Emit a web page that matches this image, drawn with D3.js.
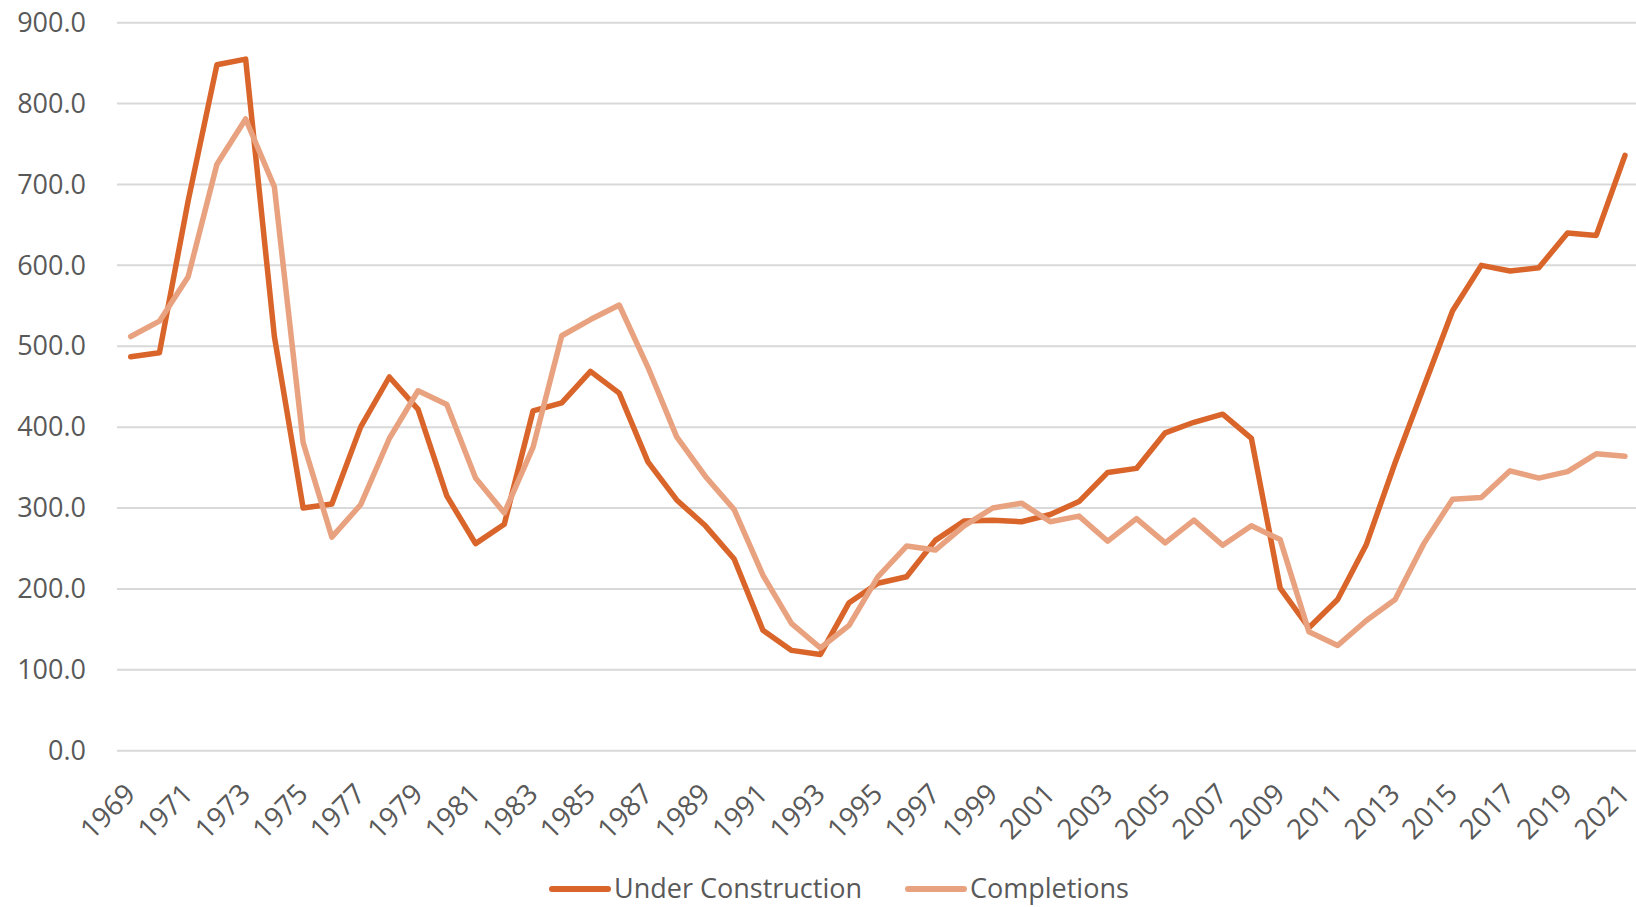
<!DOCTYPE html>
<meta charset="utf-8">
<script src="https://d3js.org/d3.v7.min.js"></script>
<style>

body {
  margin: 0;
  background: #fff;
}

svg {
  display: block;
  font-family: "Open Sans", sans-serif;
}

.grid line {
  stroke: #d9d9d9;
  stroke-width: 2;
}

.tick text {
  fill: #595959;
}

</style>
<body>
<div class="chart"></div>
<script>

// years on the category axis
var years = d3.range(1969, 2022);

// housing units under construction (thousands)
var underConstruction = [
  487, 492, 680, 848, 855, 512, 300, 305, 400, 462,
  422, 315, 256, 280, 420, 430, 469, 442, 357, 310,
  278, 237, 149, 124, 119, 183, 207, 215, 260, 284,
  285, 283, 292, 308, 344, 349, 393, 406, 416, 386,
  201, 152, 187, 255, 356, 450, 544, 600, 593, 597,
  640, 637, 736
];

// housing completions (thousands)
var completions = [
  512, 531, 586, 725, 781, 697, 381, 264, 304, 386,
  445, 428, 337, 294, 375, 513, 533, 551, 474, 388,
  339, 298, 217, 157, 127, 155, 215, 253, 248, 278,
  300, 306, 283, 290, 259, 287, 257, 285, 254, 278,
  261, 147, 130, 161, 187, 256, 311, 313, 346, 337,
  345, 367, 364
];

var yTicks = [0, 100, 200, 300, 400, 500, 600, 700, 800, 900];
var xLabels = years.filter(function(d, i) { return i % 2 == 0; });

var seriesNames = ["Under Construction", "Completions"];
var seriesColors = ["#d9652b", "#e9a27f"];

var width = 1636,
    height = 907;

var svg = d3.select(".chart").append("svg")
    .attr("width", width)
    .attr("height", height);

// plot area
var left = 117, right = 1636;

var x = d3.scalePoint()
    .domain(years)
    .range([130.7, 1625]);

var y = d3.scaleLinear()
    .domain([0, 900])
    .range([750.7, 22.7]);

// horizontal gridlines
svg.append("g")
    .attr("class", "grid")
  .selectAll("line")
  .data(yTicks)
  .enter().append("line")
    .attr("x1", left)
    .attr("x2", right)
    .attr("y1", function(d) { return y(d); })
    .attr("y2", function(d) { return y(d); });

// y axis labels
var yAxis = svg.append("g")
    .attr("transform", "translate(" + (left - 31) + ",0)")
    .call(d3.axisLeft(y).tickValues(yTicks).tickSize(0).tickPadding(0)
      .tickFormat(d3.format(".1f")));
yAxis.select(".domain").remove();
yAxis.selectAll("text")
    .attr("font-size", 27)
    .attr("font-family", "Open Sans");

// x axis labels, rotated
var xAxis = svg.append("g")
    .attr("transform", "translate(0,750.7)")
    .call(d3.axisBottom(x).tickValues(xLabels).tickSize(0).tickPadding(0));
xAxis.select(".domain").remove();
xAxis.selectAll("text")
    .attr("font-size", 28)
    .attr("font-family", "Open Sans")
    .attr("text-anchor", "end")
    .attr("dy", 0)
    .attr("y", 0)
    .attr("transform", "translate(6,45) rotate(-45)");

// lines
var line = d3.line()
    .x(function(d, i) { return x(years[i]); })
    .y(function(d) { return y(d); });

[underConstruction, completions].forEach(function(s, k) {
  svg.append("path")
      .datum(s)
      .attr("fill", "none")
      .attr("stroke", seriesColors[k])
      .attr("stroke-width", 5.5)
      .attr("stroke-linejoin", "round")
      .attr("stroke-linecap", "round")
      .attr("d", line);
});

// legend
var legendX = [552, 908];
var legend = svg.selectAll(".legend")
    .data(seriesNames)
    .enter().append("g")
    .attr("class", "legend")
    .attr("transform", function(d, i) { return "translate(" + legendX[i] + ",889)"; });

legend.append("line")
    .attr("x1", 0)
    .attr("x2", 56)
    .attr("stroke", function(d, i) { return seriesColors[i]; })
    .attr("stroke-width", 6)
    .attr("stroke-linecap", "round");

legend.append("text")
    .attr("x", 62)
    .attr("dy", "0.35em")
    .attr("fill", "#595959")
    .attr("font-size", 27)
    .text(function(d) { return d; });

</script>
</body>
</html>
